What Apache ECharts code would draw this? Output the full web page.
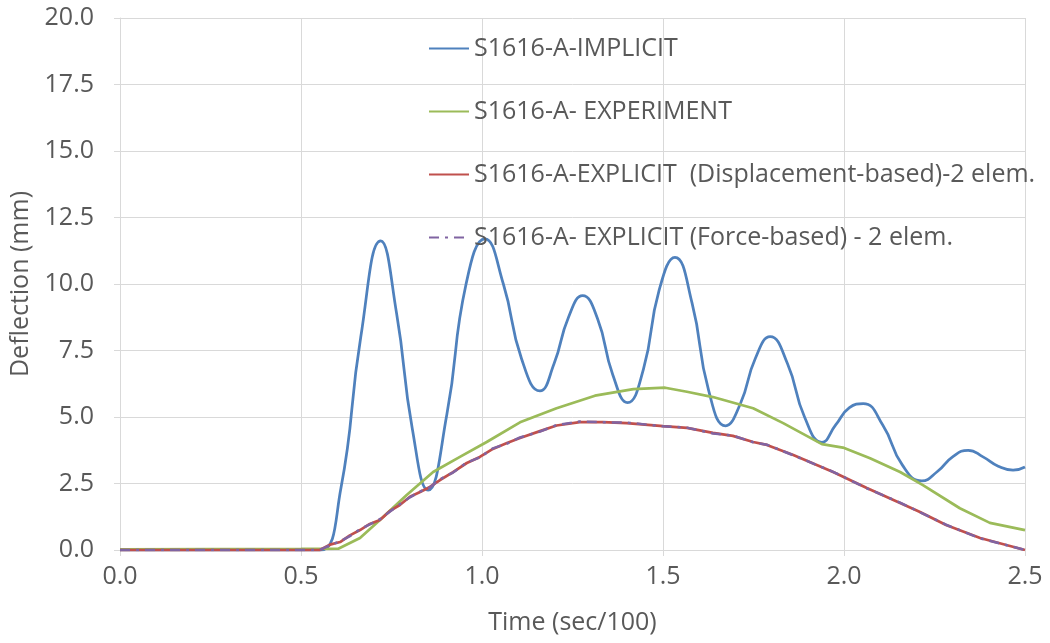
<!DOCTYPE html>
<html>
<head>
<meta charset="utf-8">
<script src="https://cdn.jsdelivr.net/npm/echarts@6/dist/echarts.min.js"></script>
<style>
html,body{margin:0;padding:0;background:#fff;}
#chart{width:1050px;height:643px;}
</style>
</head>
<body>
<div id="chart"></div>
<script>
const seriesNames = [
  'S1616-A-IMPLICIT',
  'S1616-A- EXPERIMENT',
  'S1616-A-EXPLICIT  (Displacement-based)-2 elem.',
  'S1616-A- EXPLICIT (Force-based) - 2 elem.'
];
const xTickLabels = ['0.0','0.5','1.0','1.5','2.0','2.5'];
const yTickLabels = ['0.0','2.5','5.0','7.5','10.0','12.5','15.0','17.5','20.0'];

const implicitT = [0,0.5,0.555,0.61,0.665,0.72,0.764,0.807,0.851,0.903,0.956,1.008,1.059,1.109,1.16,1.199,1.239,1.278,1.319,1.361,1.402,1.446,1.489,1.533,1.58,1.626,1.673,1.714,1.755,1.796,1.844,1.891,1.939,1.977,2.015,2.053,2.107,2.161,2.215,2.258,2.3,2.343,2.384,2.426,2.467,2.5];
const implicitV = [0,0,0,2.3,8.0,11.62,8.9,4.6,2.25,5.1,10.0,11.7,10.0,7.2,5.98,7.0,8.75,9.56,8.7,6.6,5.54,6.8,9.75,11.0,9.3,6.0,4.67,5.51,7.2,8.02,7.0,5.0,4.05,4.7,5.35,5.5,4.7,3.2,2.6,2.95,3.5,3.75,3.5,3.15,3.0,3.12];

const experimentT = [0,0.5,0.603,0.663,0.718,0.792,0.865,0.939,1.013,1.105,1.206,1.312,1.418,1.506,1.566,1.638,1.749,1.832,1.939,1.997,2.072,2.155,2.218,2.32,2.403,2.5];
const experimentV = [0.02,0.04,0.05,0.45,1.13,2.07,2.93,3.5,4.06,4.8,5.33,5.8,6.05,6.1,5.95,5.75,5.33,4.77,3.98,3.85,3.45,2.93,2.44,1.57,1.02,0.75];

const dispT = [0,0.552,0.58,0.608,0.635,0.663,0.69,0.718,0.746,0.773,0.801,0.829,0.856,0.884,0.92,0.958,0.994,1.03,1.069,1.105,1.16,1.206,1.27,1.334,1.4,1.5,1.566,1.638,1.693,1.749,1.787,1.86,1.97,2.063,2.155,2.21,2.282,2.376,2.5];
const dispV = [0,0,0.2,0.3,0.55,0.75,0.98,1.13,1.47,1.69,2.0,2.18,2.37,2.63,2.93,3.27,3.5,3.8,4.02,4.21,4.47,4.68,4.81,4.81,4.77,4.66,4.59,4.4,4.29,4.06,3.95,3.57,2.93,2.33,1.77,1.43,0.94,0.45,0.0];

const forceT = [0,0.552,0.58,0.608,0.635,0.663,0.69,0.718,0.746,0.773,0.801,0.829,0.856,0.884,0.92,0.958,0.994,1.03,1.069,1.105,1.16,1.206,1.27,1.334,1.4,1.5,1.566,1.638,1.693,1.749,1.787,1.86,1.97,2.063,2.155,2.21,2.282,2.376,2.5];
const forceV = [0,0,0.18,0.33,0.52,0.78,0.96,1.16,1.45,1.72,1.98,2.2,2.35,2.66,2.91,3.29,3.48,3.82,4.0,4.23,4.45,4.7,4.83,4.8,4.79,4.65,4.6,4.38,4.3,4.05,3.96,3.56,2.94,2.32,1.78,1.42,0.95,0.44,0.0];

function zip(t, v){ return t.map((x,i)=>[x, v[i]]); }

const textColor = '#595959';
const gridColor = '#d9d9d9';
const font = 'Open Sans';

const chart = echarts.init(document.getElementById('chart'), null, {renderer:'canvas'});
chart.setOption({
  animation: false,
  backgroundColor: '#ffffff',
  grid: {left:120, right:25, top:18, bottom:93, containLabel:false},
  legend: {
    orient: 'vertical',
    left: 428, top: 36, padding: 0,
    itemWidth: 40, itemHeight: 14, itemGap: 38,
    itemStyle: {opacity: 0},
    textStyle: {color: textColor, fontFamily: font, fontSize: 25, lineHeight: 25},
    data: seriesNames
  },
  xAxis: {
    type: 'value', min: 0, max: 2.5, interval: 0.5,
    name: 'Time (sec/100)', nameLocation: 'middle', nameGap: 60,
    nameTextStyle: {color: textColor, fontFamily: font, fontSize: 25},
    axisLine: {show: true, lineStyle: {color: gridColor, width: 1}},
    axisTick: {show: true, length: 6, lineStyle: {color: gridColor}},
    axisLabel: {color: textColor, fontFamily: font, fontSize: 25, margin: 14,
      formatter: v => xTickLabels[Math.round(v/0.5)] },
    splitLine: {show: true, lineStyle: {color: gridColor, width: 1}}
  },
  yAxis: {
    type: 'value', min: 0, max: 20, interval: 2.5,
    name: 'Deflection (mm)', nameLocation: 'middle', nameGap: 72, nameRotate: 90,
    nameTextStyle: {color: textColor, fontFamily: font, fontSize: 25},
    axisLine: {show: true, lineStyle: {color: gridColor, width: 1}},
    axisTick: {show: true, length: 6, lineStyle: {color: gridColor}},
    axisLabel: {color: textColor, fontFamily: font, fontSize: 25, margin: 26,
      formatter: v => yTickLabels[Math.round(v/2.5)] },
    splitLine: {show: true, lineStyle: {color: gridColor, width: 1}}
  },
  series: [
    {name: seriesNames[0], type: 'line', data: zip(implicitT, implicitV), showSymbol: false, symbol: 'none',
     smooth: 0.5, lineStyle: {color: '#4F81BD', width: 2.75}, itemStyle: {color: '#4F81BD'}},
    {name: seriesNames[1], type: 'line', data: zip(experimentT, experimentV), showSymbol: false, symbol: 'none',
     lineStyle: {color: '#9BBB59', width: 2.75}, itemStyle: {color: '#9BBB59'}},
    {name: seriesNames[2], type: 'line', data: zip(dispT, dispV), showSymbol: false, symbol: 'none',
     lineStyle: {color: '#C0504D', width: 2.75}, itemStyle: {color: '#C0504D'}},
    {name: seriesNames[3], type: 'line', data: zip(forceT, forceV), showSymbol: false, symbol: 'none',
     lineStyle: {color: '#8064A2', width: 2.5, type: [10,6,3,6]}, itemStyle: {color: '#8064A2'}}
  ]
});
</script>
</body>
</html>
